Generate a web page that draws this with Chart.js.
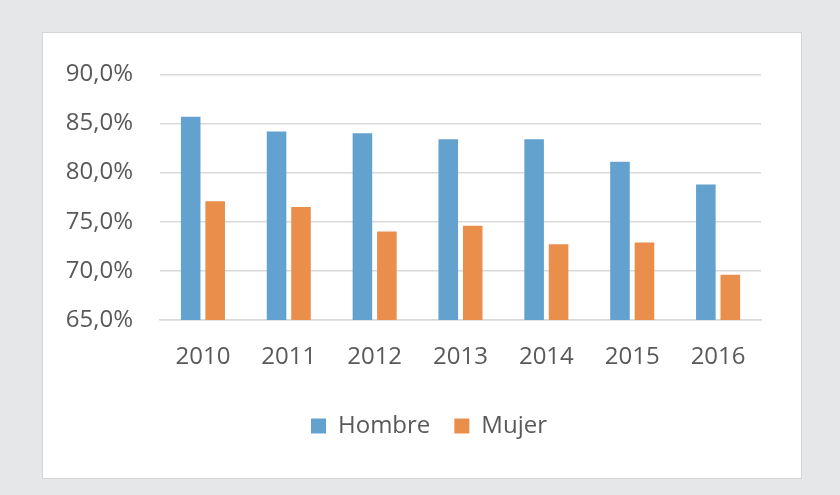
<!DOCTYPE html>
<html>
<head>
<meta charset="utf-8">
<script src="https://cdn.jsdelivr.net/npm/chart.js@4"></script>
<style>
  html, body { margin: 0; padding: 0; background: #e6e7e8; }
  #box {
    position: absolute; left: 42px; top: 32px;
    width: 758px; height: 445px;
    border: 1px solid #d4d5d6; background: #fff;
  }
  canvas { display: block; }
</style>
</head>
<body>
<div id="box"><canvas id="chart" width="758" height="445"></canvas></div>
<script>
const years = ['2010', '2011', '2012', '2013', '2014', '2015', '2016'];
const hombre = [85.7, 84.2, 84.0, 83.4, 83.4, 81.1, 78.8];
const mujer = [77.1, 76.5, 74.0, 74.6, 72.7, 72.9, 69.6];
const yMin = 65;
const yMax = 90;
const yStep = 5;

const textColor = '#595959';
const font = { family: '"Open Sans", sans-serif', size: 24 };

// legend sits a bit right of the canvas centre in the original
const legendShift = {
    id: 'legendShift',
    afterLayout(chart) {
        chart.legend.left += 27;
        chart.legend.right += 27;
    }
};

new Chart(document.getElementById('chart'), {
    type: 'bar',
    data: {
        labels: years,
        datasets: [{
            label: 'Hombre',
            data: hombre,
            backgroundColor: 'rgb(99, 162, 206)',
            barPercentage: 0.8,
            categoryPercentage: 0.57
        }, {
            label: 'Mujer',
            data: mujer,
            backgroundColor: 'rgb(233, 142, 75)',
            barPercentage: 0.8,
            categoryPercentage: 0.57
        }]
    },
    options: {
        responsive: false,
        animation: false,
        layout: {
            padding: { left: 0, right: 40, top: 37.5, bottom: 30 }
        },
        scales: {
            x: {
                grid: { display: false, drawTicks: false },
                border: { color: '#d9d9d9', width: 1.5 },
                ticks: { color: textColor, font: font, padding: 23 },
                afterFit: scale => { scale.height = 70; }
            },
            y: {
                min: yMin,
                max: yMax,
                grid: { color: '#d9d9d9', lineWidth: 1.5, drawTicks: false },
                border: { display: false },
                ticks: {
                    stepSize: yStep,
                    color: textColor,
                    font: font,
                    padding: 27,
                    callback: v => v.toFixed(1).replace('.', ',') + '%'
                },
                afterFit: scale => { scale.width = 117; }
            }
        },
        plugins: {
            legend: {
                position: 'bottom',
                labels: {
                    color: textColor,
                    font: font,
                    boxWidth: 15,
                    boxHeight: 15,
                    padding: 24
                }
            },
            tooltip: { enabled: false }
        }
    },
    plugins: [legendShift]
});
</script>
</body>
</html>
